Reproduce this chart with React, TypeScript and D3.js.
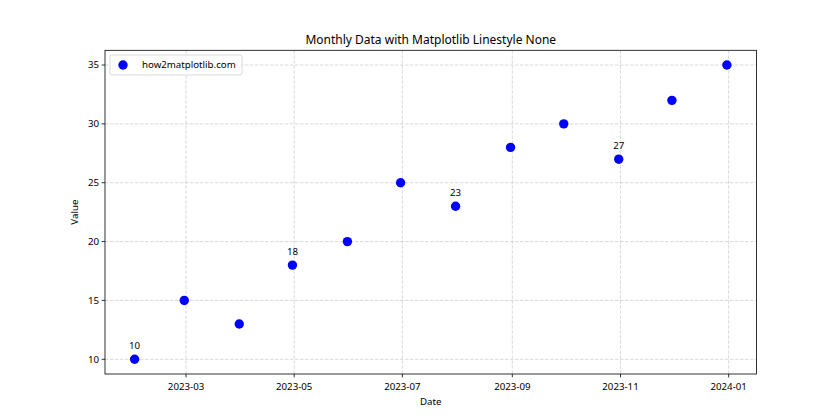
import React from "react";
import * as d3 from "d3";

const dates = [
  "2023-01-31", "2023-02-28", "2023-03-31", "2023-04-30", "2023-05-31", "2023-06-30",
  "2023-07-31", "2023-08-31", "2023-09-30", "2023-10-31", "2023-11-30", "2023-12-31",
];
const values = [10, 15, 13, 18, 20, 25, 23, 28, 30, 27, 32, 35];
const annotatedIdx = [0, 3, 6, 9];
const xTickLabels = ["2023-03-01", "2023-05-01", "2023-07-01", "2023-09-01", "2023-11-01", "2024-01-01"];
const yTicks = [10, 15, 20, 25, 30, 35];

const W = 840, H = 420;
const L = 105, R = 756.5, T = 50.3, B = 374;
const FONT = "'Noto Sans', 'DejaVu Sans', sans-serif";

export default function App() {
  const parse = d3.utcParse("%Y-%m-%d");
  const ds = dates.map((d) => parse(d)!);
  const t0 = ds[0].getTime(), t1 = ds[ds.length - 1].getTime();
  const pad = (t1 - t0) * 0.05;
  const x = d3.scaleUtc().domain([new Date(t0 - pad), new Date(t1 + pad)]).range([L, R]);
  const yMin = d3.min(values)!, yMax = d3.max(values)!;
  const yp = (yMax - yMin) * 0.05;
  const y = d3.scaleLinear().domain([yMin - yp, yMax + yp]).range([B, T]);
  const fmt = d3.utcFormat("%Y-%m");
  const xt = xTickLabels.map((s) => parse(s)!);

  return (
    <svg width={W} height={H} style={{ display: "block", margin: -8 }} fontFamily={FONT}>
      <rect width={W} height={H} fill="white" />
      {/* grid */}
      {xt.map((d, i) => (
        <line key={"gx" + i} x1={x(d)} x2={x(d)} y1={T} y2={B} stroke="#b0b0b0" strokeOpacity={0.6}
          strokeWidth={0.8} strokeDasharray="3.5,1.5" />
      ))}
      {yTicks.map((v, i) => (
        <line key={"gy" + i} x1={L} x2={R} y1={y(v)} y2={y(v)} stroke="#b0b0b0" strokeOpacity={0.6}
          strokeWidth={0.8} strokeDasharray="3.5,1.5" />
      ))}
      {/* points */}
      {ds.map((d, i) => (
        <circle key={"p" + i} cx={x(d)} cy={y(values[i])} r={4.7} fill="#0000ff" />
      ))}
      {annotatedIdx.map((i) => (
        <text key={"a" + i} x={x(ds[i])} y={y(values[i]) - 10} textAnchor="middle" fontSize={9.7} fill="#000">
          {values[i]}
        </text>
      ))}
      {/* axes frame */}
      <rect x={L} y={T} width={R - L} height={B - T} fill="none" stroke="#000" strokeWidth={0.8} />
      {/* x ticks */}
      {xt.map((d, i) => (
        <g key={"xt" + i} transform={`translate(${x(d)},${B})`}>
          <line y2={3.4} stroke="#000" strokeWidth={0.8} />
          <text y={15.5} textAnchor="middle" fontSize={9.7} fill="#000">{fmt(d)}</text>
        </g>
      ))}
      {yTicks.map((v, i) => (
        <g key={"yt" + i} transform={`translate(${L},${y(v)})`}>
          <line x2={-3.4} stroke="#000" strokeWidth={0.8} />
          <text x={-6} dy="0.35em" textAnchor="end" fontSize={9.7} fill="#000">{v}</text>
        </g>
      ))}
      {/* labels */}
      <text x={(L + R) / 2} y={44} textAnchor="middle" fontSize={12} fill="#000">
        Monthly Data with Matplotlib Linestyle None
      </text>
      <text x={(L + R) / 2} y={405} textAnchor="middle" fontSize={9.7} fill="#000">Date</text>
      <text transform={`translate(78,${(T + B) / 2}) rotate(-90)`} textAnchor="middle" fontSize={9.7} fill="#000">
        Value
      </text>
      {/* legend */}
      <rect x={110} y={55} width={132} height={20} rx={2} fill="white" fillOpacity={0.8} stroke="#d0d0d0" strokeWidth={0.8} />
      <circle cx={123} cy={65} r={4.7} fill="#0000ff" />
      <text x={142} y={65} dy="0.35em" fontSize={9.7} fill="#000">how2matplotlib.com</text>
    </svg>
  );
}
